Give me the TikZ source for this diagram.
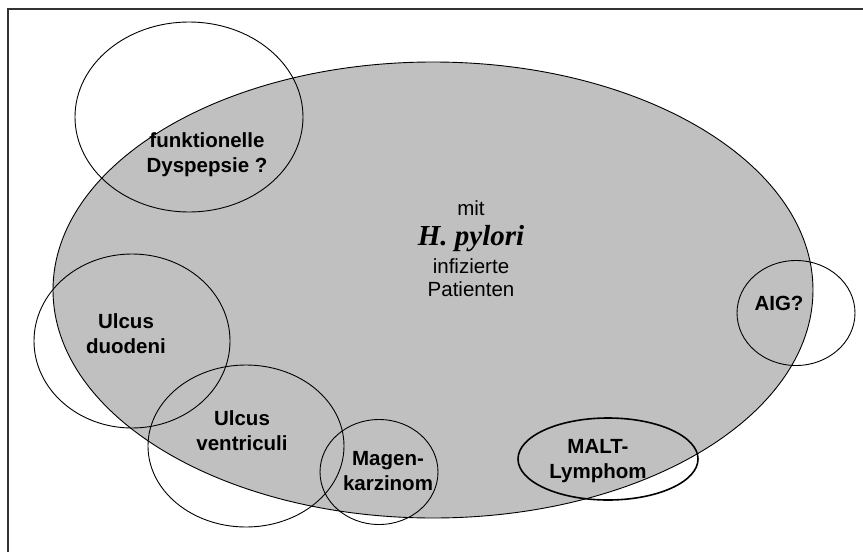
\documentclass[tikz,border=0pt]{standalone}
\usepackage{fontspec}
\setmainfont{Liberation Sans}
\newfontfamily\timesfont{Liberation Serif}
\usepackage{xcolor}
\usepackage{tikz}
\usetikzlibrary{shapes.geometric, positioning}
\definecolor{infected}{RGB}{192,192,192}
\tikzset{
    patients/.style={ellipse, draw, line width=0.9pt, fill=infected, inner sep=0pt},
    disease/.style={ellipse, draw, line width=0.9pt, inner sep=0pt},
    diseaselabel/.style={font=\fontsize{20.5}{25}\selectfont\bfseries, align=center, inner sep=0pt},
    plaintext/.style={font=\fontsize{20.5}{25}\selectfont, inner sep=0pt, anchor=base},
    bacterium/.style={font=\fontsize{29}{32}\selectfont\timesfont\bfseries\itshape, inner sep=0pt, anchor=base}
}

\begin{document}
\begin{tikzpicture}[x=1pt, y=-1pt]
    \useasboundingbox (0,0) rectangle (863,552);

    % Frame
    \coordinate (frametl) at (8,9);
    \coordinate (frametr) at (863,9);
    \coordinate (framebl) at (8,552);
    \draw[black!80, line width=1.5pt] (framebl) -- (frametl) -- (frametr);

    % Infected patients
    \node[patients, minimum width=760pt, minimum height=456pt] (hp) at (433,290) {};

    % Diseases
    \node[disease, minimum width=228pt, minimum height=190pt] (dysp) at (189,117) {};
    \node[disease, minimum width=196pt, minimum height=174pt] (duod) at (132,341) {};
    \node[disease, minimum width=196pt, minimum height=162pt] (vent) at (246,446) {};
    \node[disease, minimum width=118pt, minimum height=105pt] (karz) at (379,472) {};
    \node[disease, minimum width=118pt, minimum height=105pt] (aig) at (796,313) {};
    \node[disease, line width=1.6pt, minimum width=180pt, minimum height=82pt] (malt) at (608,459) {};

    % Labels
    \node[diseaselabel] (dysptext) at (207,155) {funktionelle\\Dyspepsie ?};
    \node[diseaselabel] (duodtext) at (126,334) {Ulcus\\duodeni};
    \node[diseaselabel] (venttext) at (242,431) {Ulcus\\ventriculi};
    \node[diseaselabel] (karztext) at (388,471) {Magen-\\karzinom};
    \node[diseaselabel] (aigtext) at (779,303) {AIG?};
    \node[diseaselabel] (malttext) at (598,461) {MALT-\\Lymphom};

    % Centre text
    \node[plaintext] (mit) at (471,215) {mit};
    \node[bacterium] (pylori) at (471,245) {H. pylori};
    \node[plaintext] (infiz) at (471,273) {infizierte};
    \node[plaintext] (pat) at (471,296) {Patienten};
\end{tikzpicture}
\end{document}
